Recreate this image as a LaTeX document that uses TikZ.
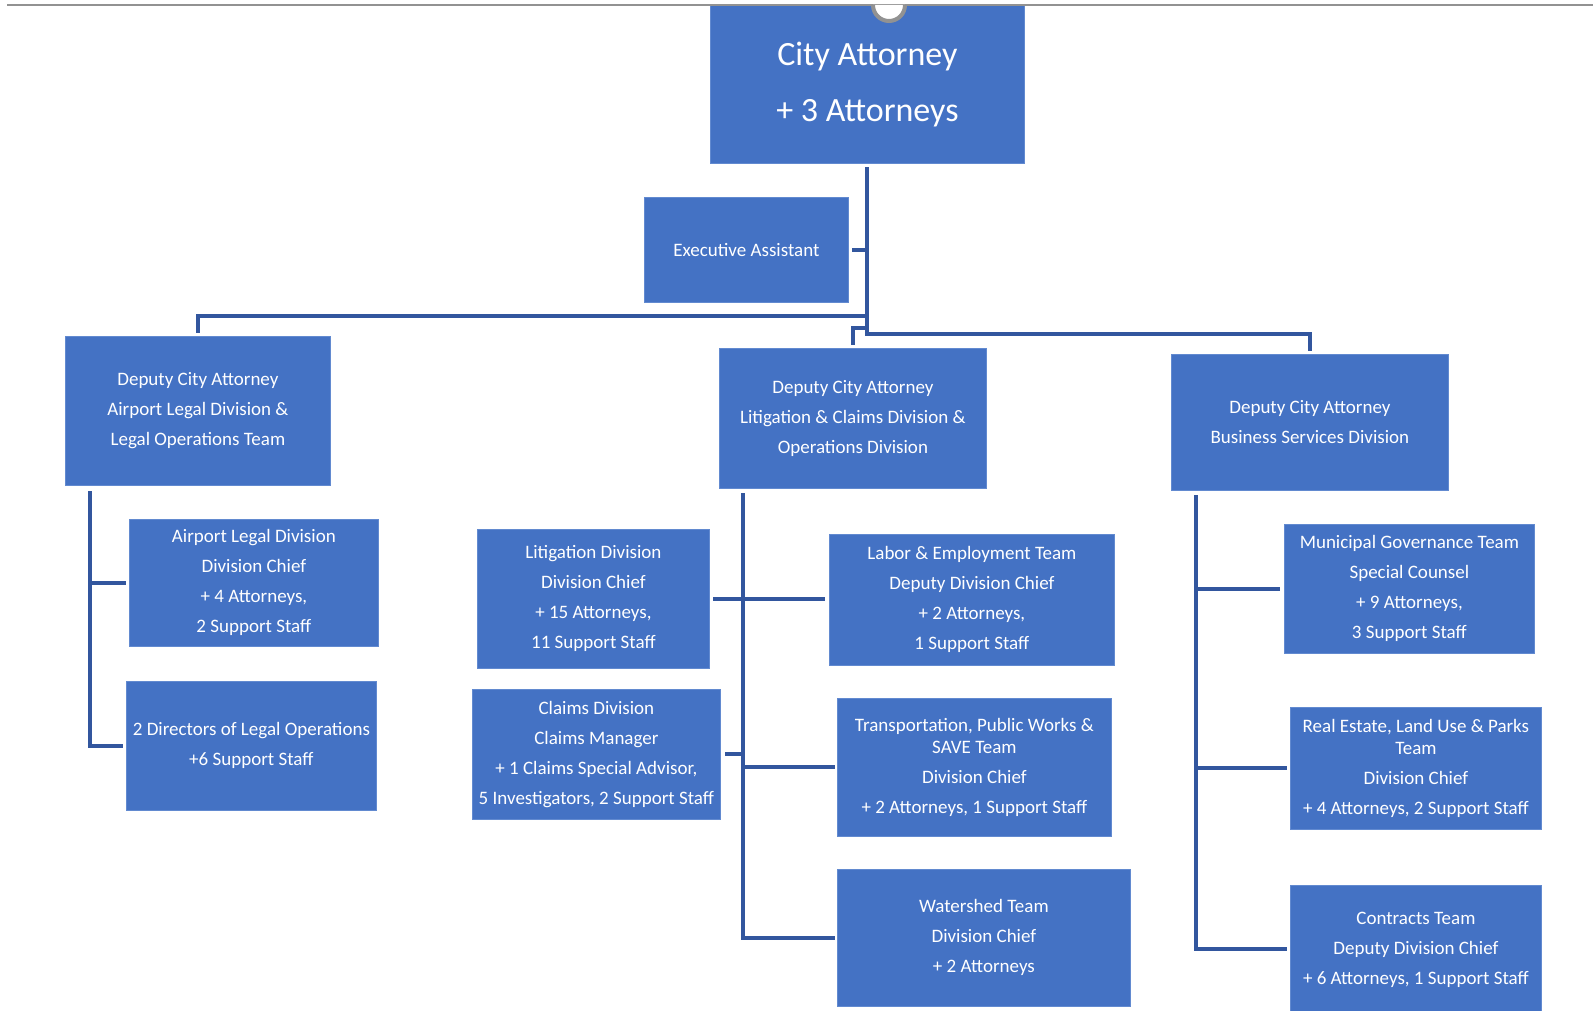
\documentclass[tikz,border=0pt]{standalone}
\usepackage{fontspec}
\setmainfont{Carlito}
\usetikzlibrary{calc}
\definecolor{unitblue}{RGB}{68,114,196}
\definecolor{unitedge}{RGB}{98,138,208}
\definecolor{linkblue}{RGB}{50,86,158}
\definecolor{framegray}{RGB}{146,146,146}

\begin{document}
\begin{tikzpicture}[
  x=1pt, y=-1pt,
  unit/.style={fill=unitblue, draw=unitedge, line width=0.8pt, text=white,
               align=center, inner sep=0pt, anchor=north west,
               font=\fontsize{19}{30}\selectfont},
  chief/.style={unit, font=\fontsize{34}{56}\selectfont},
  link/.style={draw=linkblue, line width=4pt, line cap=rect, line join=miter}
]
\useasboundingbox[fill=white] (0,0) rectangle (1593,1011);

% Vrh
\node[chief, minimum width=314pt, minimum height=158pt]
  (ca) at (710,5) {City Attorney\\+ 3 Attorneys};
\node[unit, minimum width=204pt, minimum height=105pt]
  (ea) at (644,197) {Executive Assistant};

% Namestniki
\node[unit, minimum width=265pt, minimum height=149pt]
  (dep1) at (65,336) {Deputy City Attorney\\Airport Legal Division \&\\Legal Operations Team};
\node[unit, minimum width=267pt, minimum height=140pt]
  (dep2) at (719,348) {Deputy City Attorney\\Litigation \& Claims Division \&\\Operations Division};
\node[unit, minimum width=277pt, minimum height=136pt]
  (dep3) at (1171,354) {Deputy City Attorney\\Business Services Division};

% Letalisce
\node[unit, minimum width=249pt, minimum height=127pt]
  (air) at (129,519) {Airport Legal Division\\Division Chief\\+ 4 Attorneys,\\2 Support Staff};
\node[unit, minimum width=250pt, minimum height=129pt]
  (dirs) at (126,681) {2 Directors of Legal Operations\\+6 Support Staff};

% Tozbe in zahtevki
\node[unit, minimum width=232pt, minimum height=139pt]
  (lit) at (477,529) {Litigation Division\\Division Chief\\+ 15 Attorneys,\\11 Support Staff};
\node[unit, minimum width=248pt, minimum height=130pt]
  (claims) at (472,689) {Claims Division\\Claims Manager\\+ 1 Claims Special Advisor,\\5 Investigators, 2 Support Staff};
\node[unit, minimum width=285pt, minimum height=131pt]
  (labor) at (829,534) {Labor \& Employment Team\\Deputy Division Chief\\+ 2 Attorneys,\\1 Support Staff};
\node[unit, minimum width=274pt, minimum height=138pt]
  (trans) at (837,698) {Transportation, Public Works \&\\[-8pt]SAVE Team\\Division Chief\\+ 2 Attorneys, 1 Support Staff};
\node[unit, minimum width=293pt, minimum height=137pt]
  (water) at (837,869) {Watershed Team\\Division Chief\\+ 2 Attorneys};

% Poslovne storitve
\node[unit, minimum width=250pt, minimum height=129pt]
  (muni) at (1284,524) {Municipal Governance Team\\Special Counsel\\+ 9 Attorneys,\\3 Support Staff};
\node[unit, minimum width=251pt, minimum height=122pt]
  (real) at (1290,707) {Real Estate, Land Use \& Parks\\[-8pt]Team\\Division Chief\\+ 4 Attorneys, 2 Support Staff};
\node[unit, minimum width=251pt, minimum height=128pt]
  (contr) at (1290,885) {Contracts Team\\Deputy Division Chief\\+ 6 Attorneys, 1 Support Staff};

% Povezave od vrha
\coordinate (jleft) at ([yshift=-152pt]ca.south);
\coordinate (jmid) at ([yshift=-164pt]ca.south);
\coordinate (jright) at ([yshift=-170pt]ca.south);
\draw[link] ([yshift=-5pt]ca.south) -- (jright);
\draw[link] ([xshift=5pt]ea.east) -- (ea.east -| ca.south);
\draw[link] (jleft) -| ([yshift=5pt]dep1.north);
\draw[link] (jmid) -| ([yshift=5pt]dep2.north);
\draw[link] (jright) -| ([yshift=5pt]dep3.north);

% Povezave pod namestniki
\coordinate (s1) at ([xshift=25pt,yshift=-7pt]dep1.south west);
\draw[link] (s1) |- ([xshift=-5pt]dirs.west);
\draw[link] (s1 |- air.west) -- ([xshift=-5pt]air.west);

\coordinate (s2) at ([xshift=24pt,yshift=-6pt]dep2.south west);
\draw[link] (s2) |- ([xshift=-4pt]water.west);
\draw[link] ([xshift=5pt]lit.east) -- ([xshift=-6pt]labor.west |- lit.east);
\draw[link] ([xshift=6pt]claims.east) -- (s2 |- claims.east);
\draw[link] (s2 |- trans.west) -- ([xshift=-4pt]trans.west);

\coordinate (s3) at ([xshift=25pt,yshift=-6pt]dep3.south west);
\draw[link] (s3) |- ([xshift=-5pt]contr.west);
\draw[link] (s3 |- muni.west) -- ([xshift=-6pt]muni.west);
\draw[link] (s3 |- real.west) -- ([xshift=-5pt]real.west);

% Okvir strani
\draw[framegray, line width=2.5pt] (7,5) -- (1593,5);
\draw[framegray, line width=4pt, fill=white] (873,5) arc[start angle=180, end angle=0, radius=16];

\end{tikzpicture}
\end{document}
